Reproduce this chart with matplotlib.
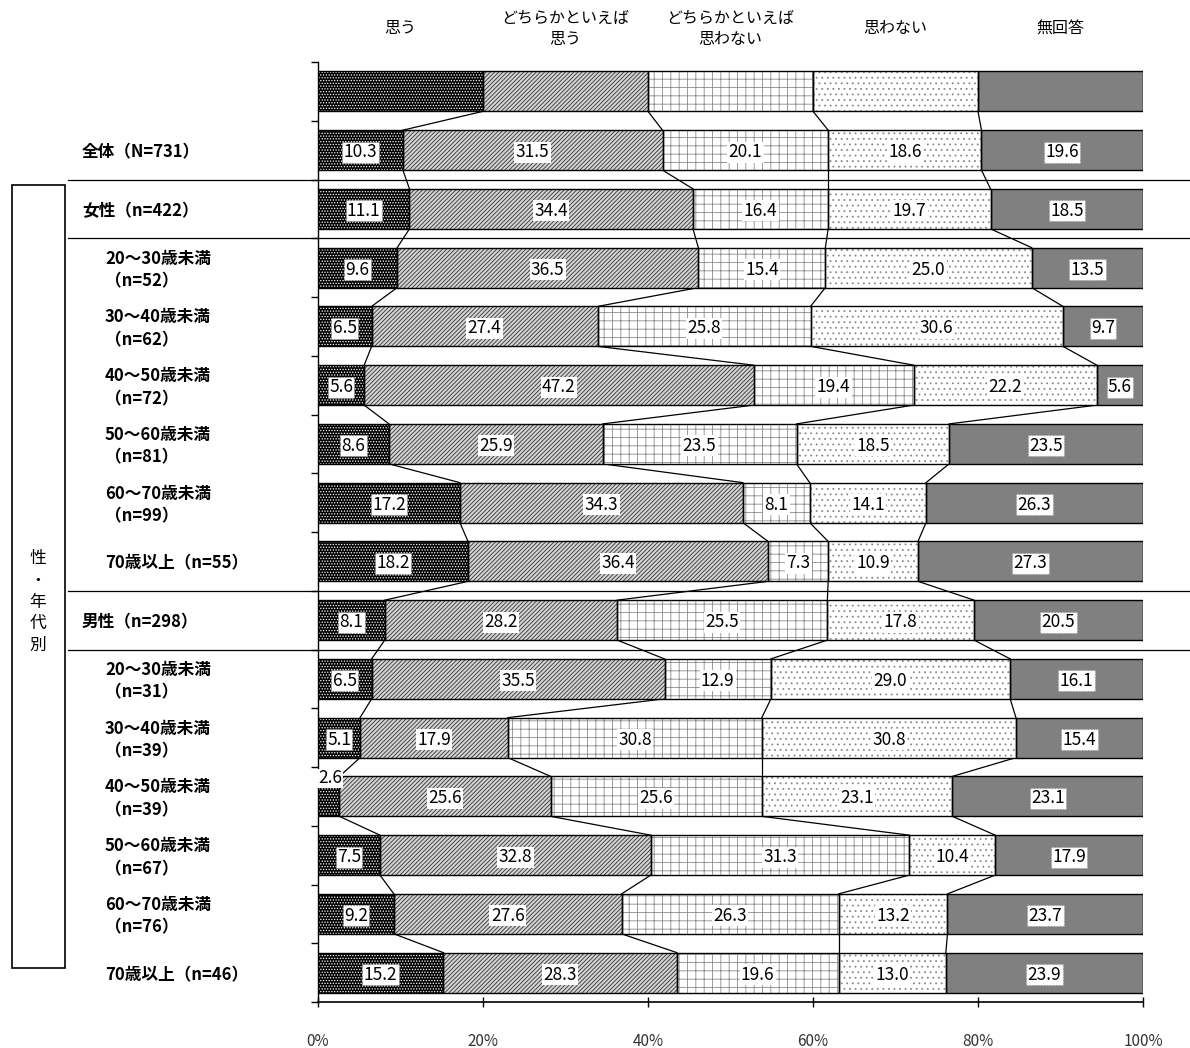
import numpy as np
import matplotlib
matplotlib.use('Agg')
import matplotlib.pyplot as plt
from matplotlib.transforms import blended_transform_factory
from matplotlib.patches import Rectangle
from matplotlib.lines import Line2D

plt.rcParams['font.family'] = ['Noto Sans CJK JP', 'DejaVu Sans']
plt.rcParams['hatch.linewidth'] = 0.6

# ---------------- data ----------------
categories = ['思う', 'どちらかといえば\n思う', 'どちらかといえば\n思わない', '思わない', '無回答']
row_labels = ['全体（N=731）', '女性（n=422）',
              '20～30歳未満\n（n=52）', '30～40歳未満\n（n=62）', '40～50歳未満\n（n=72）',
              '50～60歳未満\n（n=81）', '60～70歳未満\n（n=99）', '70歳以上（n=55）',
              '男性（n=298）',
              '20～30歳未満\n（n=31）', '30～40歳未満\n（n=39）', '40～50歳未満\n（n=39）',
              '50～60歳未満\n（n=67）', '60～70歳未満\n（n=76）', '70歳以上（n=46）']
row_indent = [0, 0, 1, 1, 1, 1, 1, 1, 0, 1, 1, 1, 1, 1, 1]
omou        = [10.3, 11.1, 9.6, 6.5, 5.6, 8.6, 17.2, 18.2, 8.1, 6.5, 5.1, 2.6, 7.5, 9.2, 15.2]
dochira_omou = [31.5, 34.4, 36.5, 27.4, 47.2, 25.9, 34.3, 36.4, 28.2, 35.5, 17.9, 25.6, 32.8, 27.6, 28.3]
dochira_omowanai = [20.1, 16.4, 15.4, 25.8, 19.4, 23.5, 8.1, 7.3, 25.5, 12.9, 30.8, 25.6, 31.3, 26.3, 19.6]
omowanai    = [18.6, 19.7, 25.0, 30.6, 22.2, 18.5, 14.1, 10.9, 17.8, 29.0, 30.8, 23.1, 10.4, 13.2, 13.0]
mukaitou    = [19.6, 18.5, 13.5, 9.7, 5.6, 23.5, 26.3, 27.3, 20.5, 16.1, 15.4, 23.1, 17.9, 23.7, 23.9]
legend_bar  = [20, 20, 20, 20, 20]
xticks = [0, 20, 40, 60, 80, 100]
xtick_labels = ['0%', '20%', '40%', '60%', '80%', '100%']
side_label = '性\n・\n年\n代\n別'

# ---------------- styles ----------------
styles = [
    dict(fc='black', hatch='......', hc='white'),
    dict(fc='#d4d4d4', hatch='////////', hc='#333333'),
    dict(fc='white', hatch='++', hc='#8a8a8a'),
    dict(fc='white', hatch='...', hc='#8a8a8a'),
    dict(fc='#808080', hatch=None, hc='#808080'),
]

W, H = 1190, 1048
fig = plt.figure(figsize=(W / 100, H / 100), dpi=100)
ax = fig.add_axes([318 / W, 1 - 1002 / H, (1143 - 318) / W, (1002 - 62) / H])

series = np.array([omou, dochira_omou, dochira_omowanai, omowanai, mukaitou]).T
rows = [np.array(legend_bar, float)] + [np.array(r, float) for r in series]
bh = 0.68

cums = []
for i, vals in enumerate(rows):
    pct = vals / vals.sum() * 100
    left = np.concatenate([[0], np.cumsum(pct)[:-1]])
    cums.append(np.concatenate([[0], np.cumsum(pct)]))
    for k in range(5):
        st = styles[k]
        ax.barh(i, pct[k], left=left[k], height=bh, color=st['fc'], hatch=st['hatch'],
                edgecolor=st['hc'], linewidth=0, zorder=2)
        ax.barh(i, pct[k], left=left[k], height=bh, fill=False, edgecolor='black',
                linewidth=1.0, zorder=3)
        if i > 0:
            v = vals[k]
            txt = f'{v:.1f}'
            if v < 4:
                ax.annotate(txt, (left[k] + pct[k] / 2, i - bh / 2), xytext=(1, 0),
                            textcoords='offset points', ha='center', va='center_baseline',
                            fontsize=12.5, zorder=5,
                            bbox=dict(boxstyle='square,pad=0.05', fc='white', ec='none'))
            else:
                ax.text(left[k] + pct[k] / 2, i, txt, ha='center', va='center_baseline',
                        fontsize=12.5, zorder=5,
                        bbox=dict(boxstyle='square,pad=0.08', fc='white',
                                  ec='#999999' if k in (0, 4) else 'none',
                                  ls=':', lw=0.8))

# series lines
for i in range(len(rows) - 1):
    a, b = cums[i], cums[i + 1]
    for k in range(1, 5):
        ax.plot([a[k], b[k]], [i + bh / 2, i + 1 - bh / 2], color='black', lw=0.9, zorder=1)

ax.set_xlim(0, 100)
ax.set_ylim(len(rows) - 0.5, -0.5)
ax.set_xticks(xticks)
ax.set_xticklabels(xtick_labels, fontsize=11, color='#333333')
ax.tick_params(axis='x', direction='inout', length=7, pad=19, width=1)
ax.set_yticks([])
ax.set_yticks(np.arange(-0.5, len(rows), 1), minor=True)
ax.tick_params(axis='y', which='minor', direction='out', length=5, width=1)
ax.spines['top'].set_visible(False)
ax.spines['right'].set_visible(False)
ax.spines['left'].set_linewidth(1)
ax.spines['bottom'].set_linewidth(1.2)

# headers
tb = blended_transform_factory(ax.transData, fig.transFigure)
for k, c in enumerate(categories):
    ax.text(cums[0][k] + (cums[0][k + 1] - cums[0][k]) / 2, 1 - 29 / H, c, transform=tb,
            ha='center', va='center', fontsize=11.5, linespacing=1.3, clip_on=False)

# row labels
tl = blended_transform_factory(fig.transFigure, ax.transData)
for j, lab in enumerate(row_labels):
    x = (105 if row_indent[j] else 82) / W
    ax.text(x, j + 1 + 0.04, lab, transform=tl, ha='left', va='center', fontsize=12,
            fontweight='bold', linespacing=1.35, clip_on=False)

# separator lines
for yb in [1.5, 2.5, 8.5, 9.5]:
    ax.add_line(Line2D([68 / W, 1.0], [yb, yb], transform=tl, color='black', lw=0.9,
                       clip_on=False))

# side box
fig.add_artist(Rectangle((12 / W, 1 - 968 / H), (65 - 12) / W, (968 - 185) / H,
                         transform=fig.transFigure, fill=False, ec='black', lw=1.2))
fig.text(38 / W, 1 - 602 / H, side_label, ha='center', va='center', fontsize=12,
         linespacing=1.35)

fig.savefig('out.png', dpi=100)
